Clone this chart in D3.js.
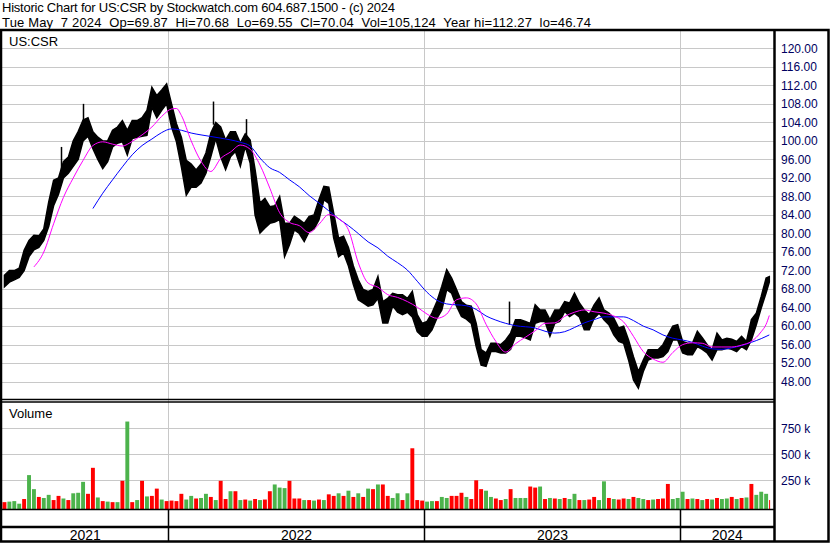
<!DOCTYPE html>
<html>
<head>
<meta charset="utf-8">
<script src="https://cdn.jsdelivr.net/npm/d3@7/dist/d3.min.js"></script>
<style>
  body { margin: 0; background: #fff; }
  svg { display: block; font-family: "Liberation Sans", Arial, sans-serif; }
</style>
</head>
<body>
<svg id="chart"></svg>
<script>
// weekly price ranges (week starting Monday 2021-05-10)
const weekHi = [71,72,72,72.5,76.4,78.5,79.6,79.5,81,86.8,91.5,92,95.5,96.5,100,102,104.5,105,102,100.8,
  100,100,102.3,103,104.4,102.3,104.4,104.4,105,106.6,111.6,109.8,111,112.3,108,103.7,100.8,95.8,95,93.7,
  95,97.4,101.7,104,103,100.2,102,102,99.5,101.5,100.2,93.8,86.6,87.6,85.8,86,88,82.2,82.2,83.7,
  83,82.2,83.7,84,87.3,90.2,90,84.4,79,79.4,77,73,70,67.9,67.5,67.9,70.7,65.3,66,67.1,
  66.8,66.8,66,67.5,62.5,60.6,61,62.8,65.3,68.6,72.2,70.4,67.9,65.3,64.5,64.3,60.6,54.9,54.2,56.3,
  56.3,56,57,58.5,61.4,61.4,61,60.6,64.6,63.5,63.5,61.4,63.5,63.5,65.3,65,67.1,65,63.5,62.5,
  64.6,66.1,63.5,62.8,61.7,59.6,60,57,53.4,50.2,52.7,54.9,54.9,54.9,56,58,60,60.3,56.7,56.3,
  56.3,58.9,57.5,56,54.9,58.5,57,57.4,57.2,56.7,57.8,56.7,61.4,62.8,66.4,70.4,70.7]
const weekLo = [68.5,69.5,70,70.5,72,75,76.5,77,78.5,81.5,86,88.5,92,93,94.5,96,100,101,98.3,96,
  94,95.5,98.7,99.5,99.8,97,100.5,100.8,101,101.2,107.3,105,106.6,108,103,99.8,94.4,88.3,90,90,
  90.9,93,96.6,100.5,96.6,93.8,96.6,97.7,94.5,98.8,95.2,84,80.1,81.2,82.2,82.5,83,75,77.6,80.8,
  80,78.3,80.4,81,83,87.3,86.5,79,75,75.8,73,69,65.7,65,64.3,64.6,66,60.7,60.7,64.4,
  63,62.5,63,62,58.8,57.8,57.8,59.2,61.7,63.5,67.9,67.1,64.3,62.1,61.5,60.6,55.6,51.6,51.3,54.5,
  54.5,54.2,54.2,55,57.8,57.8,57.5,57,60.6,61,61,57.8,60.6,61,63.2,62.1,62.8,62,59.2,59.2,
  61.7,62.8,61.4,60.3,58.1,56.7,56.3,52.7,48.4,46.6,50.2,52.7,53.1,53.1,53.4,54.5,57,57,54.2,53.8,
  53.8,55.6,55,54.2,52.7,54.9,54.9,55.2,55,54.5,55.6,54.9,57,60.3,63.9,67.2,69.5]

// single-day highs that stick out of the band
const spikeDates = ['2021-08-02','2021-09-02','2022-03-07','2022-04-22','2023-05-02']
const spikeHi = [98.7, 108, 108.5, 104.7, 65.3]

// moving averages, sampled by week index
const maShortWeek = [6,8,10,12,14,16,18,20,22,24,26,28,30,32,34,35,36,38,40,42,44,46,48,50,52,54,56,58,60,62,64,66,68,70,72,74,76,78,80,82,84,86,88,90,92,94,96,98,100,102,104,106,108,110,112,114,116,118,120,122,124,126,128,130,132,134,136,138,140,142,144,146,148,150,152,154,155,156]
const maShortVal = [72.8,76,82.1,87.8,92,95.8,99,99.8,99.3,98.9,99.9,101.3,103,105.3,106.9,107,105.5,100,95.6,93.4,96.2,97.6,99.1,98.2,94.8,89.8,84.5,82.4,81.7,80.2,82,84.1,83.2,80.8,73.7,69.3,68.4,66.8,66.2,65.3,64.1,62.6,61.7,62.6,65.7,66.1,64.8,60.4,56.7,54.4,56.2,57.6,59,60.6,60.7,62.1,63,63.5,63.1,62.8,62.2,60.9,57.8,54.5,52.9,52.2,54.3,56,56.4,56.3,55.5,55.5,55.5,55.9,56.7,58.8,60.4,62.3]
const maLongWeek = [18,20,22,24,26,28,30,32,34,36,38,40,44,48,50,52,54,56,58,60,62,64,66,68,70,72,74,76,78,80,82,84,86,88,90,94,96,98,100,102,104,108,110,112,114,116,118,120,122,126,128,130,132,134,136,138,140,142,144,146,148,150,152,154,156]
const maLongVal = [85.4,88.7,91.6,94.4,97,99,100.4,101.8,102.6,102.3,101.7,101.3,100.6,99.7,98.9,96.3,94.2,93.2,91.6,90.1,88.2,86.6,84.9,83.2,81.7,80,78.2,76.9,75.1,73.7,72.1,69.7,67.3,65.6,64.8,64.4,63.6,62.2,61.3,60.6,60.1,59.6,58.9,58.5,58.8,59.7,60.7,61.4,62,62,61.2,60,59.2,58.1,57.4,57,56.5,55.7,55.1,55,55.3,55.8,56.5,57.3,58.1]

// weekly volume (shares) and whether the week closed up
const weekVol = [40,45,50,25,70,300,165,90,80,110,60,100,75,60,125,130,235,120,370,85,
  50,45,40,40,245,815,40,60,245,95,100,170,65,50,55,50,120,65,100,75,
  80,120,90,60,245,70,145,145,60,65,55,70,60,65,145,210,180,175,245,75,
  75,60,60,55,65,60,115,100,125,100,150,90,125,90,170,165,210,210,100,80,
  125,60,125,558,60,55,45,50,50,90,80,100,100,130,90,70,250,165,150,90,
  75,60,70,165,80,80,80,190,180,190,70,80,75,70,80,70,120,60,60,65,
  90,60,240,80,70,65,75,70,90,80,70,60,65,70,75,215,70,80,140,70,
  75,70,60,70,65,80,70,75,90,70,80,85,215,110,140,120,60].map(v => v * 1000)
const weekUp = [0,1,1,1,0,1,1,0,1,1,0,0,1,0,1,1,1,0,0,1,
  0,1,0,1,0,1,0,1,0,1,0,0,1,0,0,0,0,1,1,0,
  1,1,0,1,0,0,1,0,1,0,1,0,1,0,0,1,1,1,0,0,
  0,1,0,1,0,1,0,0,1,0,1,0,1,0,1,0,1,0,0,1,
  1,0,1,0,0,0,1,1,0,1,1,0,0,0,1,0,0,0,1,1,
  0,0,1,0,1,1,1,0,0,1,0,1,0,1,0,1,1,0,1,0,
  0,1,1,0,1,0,0,1,0,1,1,0,1,0,0,0,1,1,1,0,
  1,0,1,0,1,0,1,1,0,1,0,1,0,1,1,1,0]

const priceTicks = d3.range(48, 121, 4)
const volTicks = [250000, 500000, 750000]
const yearLabels = ['2021', '2022', '2023', '2024']
const yearStarts = ['2022-01-01', '2023-01-01', '2024-01-01']

const width = 830, height = 543
const svg = d3.select('#chart').attr('width', width).attr('height', height)
svg.append('rect').attr('width', width).attr('height', height).attr('fill', '#fff')

const parse = d3.timeParse('%Y-%m-%d')
const start = parse('2021-05-10'), end = parse('2024-05-08')
const weeks = d3.timeMonday.range(start, end)

const plotL = 2, plotR = 774
const x = d3.scaleTime().domain([start, end]).range([2, 770])
const y = d3.scaleLinear().domain([48, 120]).range([381.7, 48.3])
const yv = d3.scaleLinear().domain([0, 750000]).range([506.3, 428.3])

const gridColor = '#c8c8c8'

// price grid
svg.append('g').selectAll('line').data(priceTicks).join('line')
    .attr('x1', plotL).attr('x2', plotR)
    .attr('y1', d => Math.round(y(d)) + 0.5).attr('y2', d => Math.round(y(d)) + 0.5)
    .attr('stroke', gridColor)
// volume grid
svg.append('g').selectAll('line').data(volTicks).join('line')
    .attr('x1', plotL).attr('x2', plotR)
    .attr('y1', d => Math.round(yv(d)) + 0.5).attr('y2', d => Math.round(yv(d)) + 0.5)
    .attr('stroke', gridColor)
// year dividers: gray inside panels, black in bottom strips
const yearX = yearStarts.map(s => Math.round(x(parse(s))) + 0.5)
svg.append('g').selectAll('line').data(yearX).join('line')
    .attr('x1', d => d).attr('x2', d => d).attr('y1', 31).attr('y2', 509)
    .attr('stroke', gridColor)
svg.append('g').selectAll('line').data(yearX).join('line')
    .attr('x1', d => d).attr('x2', d => d).attr('y1', 509).attr('y2', 542)
    .attr('stroke', '#000').attr('stroke-width', 1.5)

// price band: weekly high/low joined through each week's middle
const barW = i => Math.min(x(d3.timeDay.offset(weeks[i], 7)), 770) - x(weeks[i])
const mid = k => x(weeks[k]) + barW(k) / 2
const band = d3.area()
    .x((d, i) => mid(i))
    .y0((d, i) => y(weekLo[i]))
    .y1((d, i) => y(weekHi[i]))
svg.append('path').attr('d', band(weeks))
    .attr('fill', '#000').attr('stroke', '#000').attr('stroke-width', 1.5)
svg.append('g').selectAll('line').data(spikeDates).join('line')
    .attr('x1', d => Math.round(x(parse(d))) + 0.5).attr('x2', d => Math.round(x(parse(d))) + 0.5)
    .attr('y1', (d, i) => y(spikeHi[i])).attr('y2', (d, i) => y(spikeHi[i] - 5))
    .attr('stroke', '#000').attr('stroke-width', 1.5)

// moving averages
const maLine = d3.line().x(d => mid(d[0])).y(d => y(d[1])).curve(d3.curveMonotoneX)
svg.append('path').attr('d', maLine(maLongWeek.map((k, i) => [k, maLongVal[i]])))
    .attr('fill', 'none').attr('stroke', '#0000ff').attr('stroke-width', 1)
svg.append('path').attr('d', maLine(maShortWeek.map((k, i) => [k, maShortVal[i]])))
    .attr('fill', 'none').attr('stroke', '#ff00ff').attr('stroke-width', 1)

// volume bars
svg.append('g').selectAll('rect').data(weeks).join('rect')
    .attr('x', d => x(d) + 0.5)
    .attr('width', (d, i) => Math.max(barW(i) - 1, 1))
    .attr('y', (d, i) => yv(weekVol[i]))
    .attr('height', (d, i) => 509 - yv(weekVol[i]))
    .attr('fill', (d, i) => weekUp[i] ? '#4cb34c' : '#ff0000')

// frame
const frame = svg.append('g').attr('stroke', '#000').attr('fill', 'none')
frame.append('rect').attr('x', 1).attr('y', 30).attr('width', 827.5).attr('height', 511.5).attr('stroke-width', 2.5)
frame.append('line').attr('x1', 774.5).attr('x2', 774.5).attr('y1', 30).attr('y2', 542).attr('stroke-width', 2.5)
frame.append('line').attr('x1', 0).attr('x2', 775).attr('y1', 399.5).attr('y2', 399.5).attr('stroke-width', 1.5)
frame.append('line').attr('x1', 0).attr('x2', 775).attr('y1', 402).attr('y2', 402).attr('stroke-width', 1.5)
frame.append('line').attr('x1', 0).attr('x2', 775).attr('y1', 509.5).attr('y2', 509.5).attr('stroke-width', 1.5)
frame.append('line').attr('x1', 0).attr('x2', 775).attr('y1', 527).attr('y2', 527).attr('stroke-width', 2.5)

// axis labels
svg.append('g').selectAll('text').data(priceTicks).join('text')
    .attr('x', 781).attr('y', d => y(d)).attr('dy', '0.35em')
    .attr('font-size', 12).attr('fill', '#000060')
    .text(d => d3.format('.2f')(d))
svg.append('g').selectAll('text').data(volTicks).join('text')
    .attr('x', 781).attr('y', d => yv(d)).attr('dy', '0.35em')
    .attr('font-size', 12).attr('fill', '#000060')
    .text(d => (d / 1000) + ' k')

const yearMids = [2, ...yearX, 774]
svg.append('g').selectAll('text').data(yearLabels).join('text')
    .attr('x', (d, i) => (yearMids[i] + yearMids[i + 1]) / 2).attr('y', 540)
    .attr('text-anchor', 'middle').attr('font-size', 14).attr('fill', '#000')
    .text(d => d)

svg.append('text').attr('x', 9).attr('y', 46).attr('font-size', 13).text('US:CSR')
svg.append('text').attr('x', 9).attr('y', 418).attr('font-size', 13).text('Volume')

// header: two tight lines, stretched to the reference widths
svg.append('text').attr('x', 2).attr('y', 12).attr('font-size', 13)
    .attr('textLength', 393).attr('lengthAdjust', 'spacing')
    .style('white-space', 'pre')
    .text('Historic Chart for US:CSR by Stockwatch.com 604.687.1500 - (c) 2024')
svg.append('text').attr('x', 2).attr('y', 27).attr('font-size', 13)
    .attr('textLength', 589).attr('lengthAdjust', 'spacing')
    .style('white-space', 'pre')
    .text('Tue May  7 2024  Op=69.87  Hi=70.68  Lo=69.55  Cl=70.04  Vol=105,124  Year hi=112.27  lo=46.74')
</script>
</body>
</html>
